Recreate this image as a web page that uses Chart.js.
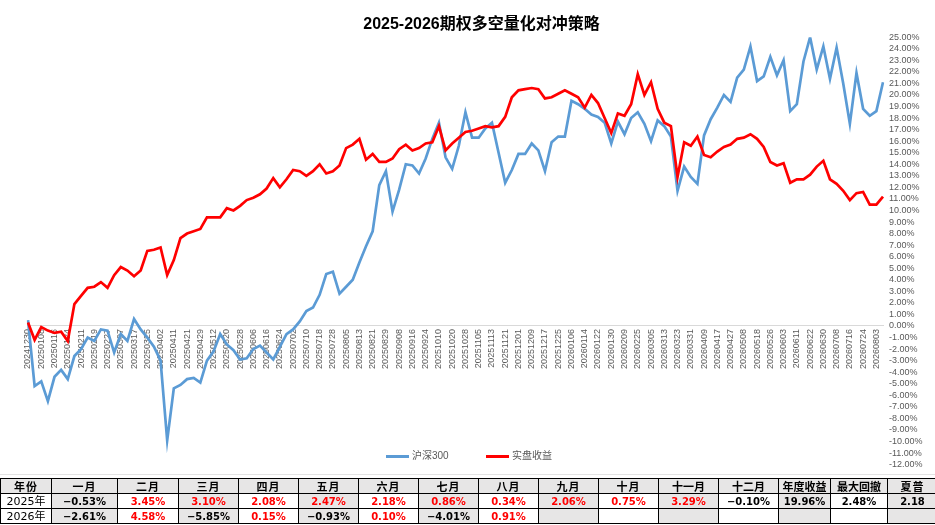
<!DOCTYPE html>
<html>
<head>
<meta charset="utf-8">
<script src="https://cdn.jsdelivr.net/npm/chart.js@4.4.1/dist/chart.umd.min.js"></script>
<style>
  html, body { margin: 0; padding: 0; background: #fff; }
  body { width: 935px; height: 525px; position: relative; overflow: hidden; font-family: 'Liberation Sans', 'Noto Sans CJK SC', sans-serif; }
  #chartBox { position: absolute; left: 0; top: 0; width: 935px; height: 476px; }
  .legendItem { position: absolute; top: 450px; display: flex; align-items: center; font-size: 10px; line-height: 12px; color: #595959; white-space: nowrap; }
  .legendItem span.key { display: inline-block; width: 23px; height: 3px; margin-right: 3px; }
  #sheetLine { position: absolute; left: 0; top: 474px; width: 935px; height: 1px; background: #e3e3e3; }
  #stats { position: absolute; left: 0; top: 478px; border-collapse: collapse; table-layout: fixed; width: 937px; }
  #stats td { border: 1px solid #000; height: 14px; padding: 0; text-align: center; line-height: 13px; white-space: nowrap; overflow: hidden; }
  #stats td.head { background: #e7e6e6; font-family: 'Noto Sans CJK SC', sans-serif; font-weight: bold; font-size: 11px; letter-spacing: 1px; }
  #stats td.year { font-family: 'DejaVu Sans', 'Noto Sans CJK SC', sans-serif; font-size: 11px; }
  #stats td.val { font-family: 'DejaVu Sans', sans-serif; font-weight: bold; font-size: 10px; }
  #stats td.shade { background: #e7e6e6; }
</style>
</head>
<body>
<div id="chartBox"><canvas id="hedgeChart"></canvas></div>
<div class="legendItem" style="left:386px"><span class="key" style="background:#5b9bd5"></span>沪深300</div>
<div class="legendItem" style="left:486px"><span class="key" style="background:#ff0000"></span>实盘收益</div>
<div id="sheetLine"></div>
<table id="stats"></table>
<script>
// tick dates shown on the x axis (one every second point)
const tickDates = ['20241230', '20250108', '20250116', '20250124', '20250211', '20250219', '20250227', '20250307', '20250317', '20250325',
    '20250402', '20250411', '20250421', '20250429', '20250512', '20250520', '20250528', '20250606', '20250616', '20250624',
    '20250702', '20250710', '20250718', '20250728', '20250805', '20250813', '20250821', '20250829', '20250908', '20250916',
    '20250924', '20251010', '20251020', '20251028', '20251105', '20251113', '20251121', '20251201', '20251209', '20251217',
    '20251225', '20260106', '20260114', '20260122', '20260130', '20260209', '20260225', '20260305', '20260313', '20260323',
    '20260331', '20260409', '20260417', '20260427', '20260508', '20260518', '20260526', '20260603', '20260611', '20260622',
    '20260630', '20260708', '20260716', '20260724', '20260803'];

// cumulative returns, %
const hs300 = [0.5, -5.2, -4.8, -6.5, -4.4, -3.8, -4.6, -2.6, -2.0, -1.0,
    -1.3, -0.3, -0.4, -2.3, -0.7, -1.3, 0.6, -0.3, -1.0, -1.8,
    -3.0, -9.9, -5.4, -5.1, -4.6, -4.5, -4.9, -3.0, -2.2, -0.7,
    -1.6, -2.1, -2.9, -2.8, -2.0, -1.7, -2.3, -2.9, -1.8, -0.7,
    -0.3, 0.4, 1.3, 1.6, 2.7, 4.5, 4.7, 2.8, 3.4, 4.0,
    5.5, 6.9, 8.2, 12.2, 13.4, 9.9, 11.8, 14.0, 13.9, 13.2,
    14.5, 16.2, 17.6, 14.6, 13.6, 15.6, 18.5, 16.3, 16.3, 17.1,
    17.6, 15.0, 12.4, 13.5, 14.9, 14.9, 15.8, 15.2, 13.4, 15.9,
    16.4, 16.4, 19.5, 19.2, 18.8, 18.3, 18.1, 17.6, 15.8, 17.7,
    16.6, 18.0, 18.5, 17.5, 16.0, 17.8, 17.3, 16.4, 11.7, 13.8,
    12.9, 12.3, 16.5, 17.9, 18.9, 20.0, 19.4, 21.5, 22.2, 24.2,
    21.2, 21.6, 23.3, 21.7, 23.0, 18.6, 19.2, 22.9, 25.0, 22.2,
    24.2, 21.4, 24.1, 21.0, 17.5, 21.9, 18.8, 18.2, 18.6, 21.1];

const strategy = [0.3, -1.2, -0.1, -0.4, -0.6, -0.5, -1.3, 1.9, 2.6, 3.3,
    3.4, 3.8, 3.3, 4.4, 5.1, 4.8, 4.3, 4.8, 6.5, 6.6,
    6.8, 4.4, 5.7, 7.6, 8.0, 8.2, 8.4, 9.4, 9.4, 9.4,
    10.2, 10.0, 10.4, 10.9, 11.1, 11.4, 11.9, 12.8, 12.0, 12.7,
    13.5, 13.4, 13.0, 13.4, 14.0, 13.2, 13.4, 13.9, 15.4, 15.7,
    16.2, 14.4, 14.9, 14.2, 14.2, 14.5, 15.3, 15.7, 15.2, 15.4,
    15.8, 15.9, 17.3, 15.2, 15.8, 16.3, 16.8, 16.9, 17.1, 17.3,
    17.2, 17.3, 18.1, 19.8, 20.4, 20.5, 20.6, 20.5, 19.7, 19.8,
    20.1, 20.4, 20.1, 19.8, 18.9, 20.0, 19.3, 18.0, 16.7, 18.4,
    18.2, 19.2, 21.8, 20.0, 21.1, 18.8, 17.6, 17.3, 12.9, 15.9,
    15.6, 16.4, 14.8, 14.6, 15.1, 15.5, 15.7, 16.2, 16.3, 16.6,
    16.2, 15.5, 14.2, 13.9, 14.1, 12.4, 12.7, 12.7, 13.1, 13.8,
    14.3, 12.7, 12.3, 11.7, 10.9, 11.5, 11.6, 10.5, 10.5, 11.2];

// monthly table
const monthNames = ['一月', '二月', '三月', '四月', '五月', '六月', '七月', '八月', '九月', '十月', '十一月', '十二月'];
const statNames = ['年度收益', '最大回撤', '夏普'];
const ret2025 = [-0.53, 3.45, 3.10, 2.08, 2.47, 2.18, 0.86, 0.34, 2.06, 0.75, 3.29, -0.10];
const ret2026 = [-2.61, 4.58, -5.85, 0.15, -0.93, 0.10, -4.01, 0.91];
const stats2025 = ['19.96%', '2.48%', '2.18'];
const stats2026 = ['', '', ''];

const fontFamily = "'Liberation Sans', 'Noto Sans CJK SC', sans-serif";

document.addEventListener('DOMContentLoaded', function() {
    // build the returns table
    const colWidths = [51, 66, 61, 60, 60, 60, 60, 60, 60, 60, 60, 60, 60, 52, 57, 50];
    const table = document.getElementById('stats');
    const colgroup = document.createElement('colgroup');
    colWidths.forEach(w => {
        const col = document.createElement('col');
        col.style.width = w + 'px';
        colgroup.appendChild(col);
    });
    table.appendChild(colgroup);

    const headRow = table.insertRow();
    ['年份'].concat(monthNames, statNames).forEach(txt => {
        const td = headRow.insertCell();
        td.className = 'head';
        td.textContent = txt;
        if (txt.length > 2) td.style.letterSpacing = '0px';
    });

    function addYearRow(year, rets, stats) {
        const row = table.insertRow();
        const cells = [];
        const first = row.insertCell();
        first.className = 'year';
        first.textContent = year + '年';
        cells.push(first);
        for (let m = 0; m < 12; m++) {
            const td = row.insertCell();
            td.className = 'val';
            if (m < rets.length) {
                const v = rets[m];
                td.textContent = (v < 0 ? '\u2212' : '') + Math.abs(v).toFixed(2) + '%';
                td.style.color = v < 0 ? '#000' : '#ff0000';
            }
            cells.push(td);
        }
        stats.forEach(s => {
            const td = row.insertCell();
            td.className = 'val';
            td.textContent = s;
            cells.push(td);
        });
        cells.forEach((td, c) => { if (c % 2 === 1) td.classList.add('shade'); });
    }
    addYearRow(2025, ret2025, stats2025);
    addYearRow(2026, ret2026, stats2026);

    // chart
    const labels = hs300.map((v, i) => i % 2 === 0 ? tickDates[i / 2] : '');
    const ctx = document.getElementById('hedgeChart').getContext('2d');

    new Chart(ctx, {
        type: 'line',
        data: {
            labels: labels,
            datasets: [
                {
                    label: '沪深300',
                    data: hs300,
                    borderColor: '#5b9bd5',
                    backgroundColor: '#5b9bd5',
                    borderWidth: 2.7,
                    pointRadius: 0,
                    tension: 0,
                    order: 1
                },
                {
                    label: '实盘收益',
                    data: strategy,
                    borderColor: '#ff0000',
                    backgroundColor: '#ff0000',
                    borderWidth: 2.7,
                    pointRadius: 0,
                    tension: 0,
                    order: 0
                }
            ]
        },
        options: {
            responsive: true,
            maintainAspectRatio: false,
            animation: false,
            layout: {
                padding: { left: 28, right: 0, top: 0, bottom: 0 }
            },
            plugins: {
                legend: { display: false },
                tooltip: { enabled: false },
                title: {
                    display: true,
                    text: '2025-2026期权多空量化对冲策略',
                    color: '#000',
                    font: { size: 16, weight: 'bold', family: fontFamily },
                    padding: { top: 15, bottom: 3 }
                }
            },
            scales: {
                x: {
                    position: { y: 0 },
                    grid: { display: false, drawTicks: false },
                    border: { display: true, color: '#d9d9d9', width: 1 },
                    ticks: {
                        autoSkip: false,
                        minRotation: 90,
                        maxRotation: 90,
                        padding: 3,
                        color: '#595959',
                        font: { size: 9, family: fontFamily },
                        callback: function(value) {
                            return this.getLabelForValue(value);
                        }
                    }
                },
                y: {
                    position: 'right',
                    min: -12,
                    max: 25,
                    grid: { display: false, drawTicks: false },
                    border: { display: false },
                    ticks: {
                        stepSize: 1,
                        autoSkip: false,
                        padding: 6,
                        color: '#595959',
                        font: { size: 9, family: fontFamily },
                        callback: v => v.toFixed(2) + '%'
                    },
                    afterFit: function(scale) {
                        scale.width = 52;
                    }
                }
            }
        }
    });
});
</script>
</body>
</html>
